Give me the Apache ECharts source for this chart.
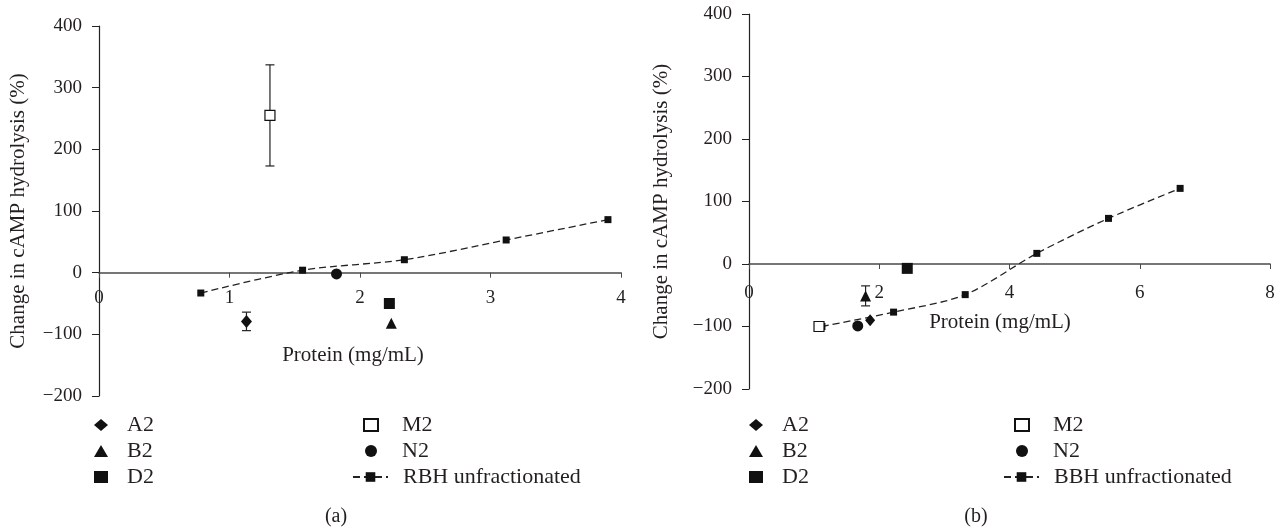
<!DOCTYPE html>
<html>
<head>
<meta charset="utf-8">
<script src="https://cdn.jsdelivr.net/npm/echarts@6/dist/echarts.min.js"></script>
<style>
  html, body { margin: 0; padding: 0; background: #fff; }
  #chart { width: 1283px; height: 529px; }
</style>
</head>
<body>
<div id="chart"></div>
<script>
// panel (a) - RBH fractions, [protein mg/mL, change %]
const rbhLine = [[0.78, -33], [1.56, 4], [2.34, 21], [3.12, 53], [3.9, 86]]
const aA2 = [[1.13, -79]]
const aB2 = [[2.24, -82]]
const aD2 = [[2.225, -50]]
const aM2 = [[1.31, 255]]
const aN2 = [[1.82, -2]]
const aA2Err = [15]
const aM2Err = [82]

// panel (b) - BBH fractions
const bbhLine = [[1.12, -100], [2.22, -77], [3.32, -49], [4.42, 17], [5.52, 73], [6.62, 121]]
const bA2 = [[1.86, -90]]
const bB2 = [[1.79, -51]]
const bD2 = [[2.43, -7]]
const bM2 = [[1.075, -100]]
const bN2 = [[1.67, -99]]
const bB2Err = [16]

const yTicks = { min: -200, max: 400, interval: 100 }
const xTicksA = { min: 0, max: 4, interval: 1 }
const xTicksB = { min: 0, max: 8, interval: 2 }

const font = 'Liberation Serif'
const ink = '#231f20'

// plot boxes of the two panels
const boxA = { left: 99, right: 662, top: 26, bottom: 133 }
const boxB = { left: 749, right: 13, top: 14, bottom: 140 }

const minus = (v) => (v < 0 ? '\u2212' + Math.abs(v) : String(v))

// lift the x axis from the grid bottom up to y = 0
const zeroOffset = (box) => {
  const h = 529 - box.top - box.bottom
  const frac = (0 - yTicks.min) / (yTicks.max - yTicks.min)
  return -h * frac
}

const xAxisBase = (idx, box, ticks, labelMargin, nameGap, shift) => ({
  type: 'value',
  gridIndex: idx,
  ...ticks,
  offset: zeroOffset(box),
  name: 'Protein (mg/mL)',
  nameLocation: 'middle',
  nameGap: nameGap,
  nameTextStyle: { fontFamily: font, fontSize: 21, color: ink, padding: [0, shift, 0, 0] },
  axisLine: { onZero: false, lineStyle: { color: '#4a4a4a', width: 1.6 } },
  axisTick: { length: 5, lineStyle: { color: '#4a4a4a' } },
  axisLabel: { margin: labelMargin, fontFamily: font, fontSize: 19, color: ink },
  splitLine: { show: false },
})

const yAxisBase = (idx, nameGap) => ({
  type: 'value',
  gridIndex: idx,
  ...yTicks,
  name: 'Change in cAMP hydrolysis (%)',
  nameLocation: 'middle',
  nameGap: nameGap,
  nameTextStyle: { fontFamily: font, fontSize: 21, color: ink },
  axisLine: { show: true, onZero: false, lineStyle: { color: '#222', width: 1.2 } },
  axisTick: { show: true, length: 7, lineStyle: { color: '#222' } },
  axisLabel: { margin: 17, fontFamily: font, fontSize: 19, color: ink, formatter: minus },
  splitLine: { show: false },
})

const dot = (name, data, symbol, size, idx, open) => ({
  type: 'scatter',
  name,
  data,
  symbol,
  symbolSize: size,
  xAxisIndex: idx,
  yAxisIndex: idx,
  z: 5,
  itemStyle: open
    ? { color: '#fff', borderColor: '#111', borderWidth: 1.2, opacity: 1 }
    : { color: '#111', opacity: 1 },
})

const curve = (name, data, idx) => ({
  type: 'line',
  name,
  data,
  xAxisIndex: idx,
  yAxisIndex: idx,
  smooth: 0.3,
  symbol: 'rect',
  symbolSize: 7,
  z: 4,
  itemStyle: { color: '#111' },
  lineStyle: { color: '#222', width: 1.3, type: [7, 4] },
})

const errorBars = (points, errs, idx) => ({
  type: 'custom',
  name: 'err',
  xAxisIndex: idx,
  yAxisIndex: idx,
  z: 2,
  silent: true,
  data: points.map((p, i) => [p[0], p[1] - errs[i], p[1] + errs[i]]),
  renderItem(params, api) {
    const x = api.value(0)
    const lo = api.coord([x, api.value(1)])
    const hi = api.coord([x, api.value(2)])
    const w = 4.5
    const st = { stroke: '#222', lineWidth: 1.2 }
    return {
      type: 'group',
      children: [
        { type: 'line', shape: { x1: lo[0], y1: lo[1], x2: hi[0], y2: hi[1] }, style: st },
        { type: 'line', shape: { x1: lo[0] - w, y1: lo[1], x2: lo[0] + w, y2: lo[1] }, style: st },
        { type: 'line', shape: { x1: hi[0] - w, y1: hi[1], x2: hi[0] + w, y2: hi[1] }, style: st },
      ],
    }
  },
})

const legendCol = (names, left, top, itemWidth, pad) => ({
  data: names,
  orient: 'vertical',
  left: left,
  top: top,
  padding: 0,
  itemWidth: itemWidth,
  itemHeight: 12,
  itemGap: 4,
  selectedMode: false,
  textStyle: { fontFamily: font, fontSize: 22, color: ink, lineHeight: 22, padding: [0, 0, 0, pad] },
})

const chart = echarts.init(document.getElementById('chart'))
chart.setOption({
  animation: false,
  grid: [boxA, boxB],
  xAxis: [xAxisBase(0, boxA, xTicksA, 16, 72, 14), xAxisBase(1, boxB, xTicksB, 20, 48, 19)],
  yAxis: [yAxisBase(0, 70), yAxisBase(1, 77)],
  legend: [
    legendCol(['A2', 'B2', 'D2'], 94, 414, 14, 14),
    legendCol(['M2', 'N2'], 363, 414, 14, 19),
    legendCol(['RBH unfractionated'], 352, 466, 35, 10),
    legendCol(['A2', 'B2', 'D2'], 749, 414, 14, 14),
    legendCol(['M2', 'N2'], 1014, 414, 14, 19),
    legendCol(['BBH unfractionated'], 1003, 466, 35, 10),
  ],
  graphic: [
    { type: 'text', x: 336, y: 517, style: { text: '(a)', font: '20px ' + font, fill: ink, textAlign: 'center', textVerticalAlign: 'middle' } },
    { type: 'text', x: 976, y: 517, style: { text: '(b)', font: '20px ' + font, fill: ink, textAlign: 'center', textVerticalAlign: 'middle' } },
  ],
  series: [
    errorBars(aA2, aA2Err, 0),
    errorBars(aM2, aM2Err, 0),
    curve('RBH unfractionated', rbhLine, 0),
    dot('A2', aA2, 'diamond', [11, 13], 0),
    dot('B2', aB2, 'triangle', 11, 0),
    dot('D2', aD2, 'rect', 11, 0),
    dot('M2', aM2, 'rect', 10, 0, true),
    dot('N2', aN2, 'circle', 11, 0),

    errorBars(bB2, bB2Err, 1),
    curve('BBH unfractionated', bbhLine, 1),
    dot('A2', bA2, 'diamond', [10, 12], 1),
    dot('B2', bB2, 'triangle', 11, 1),
    dot('D2', bD2, 'rect', 11, 1),
    dot('M2', bM2, 'rect', 10, 1, true),
    dot('N2', bN2, 'circle', 11, 1),
  ],
})
</script>
</body>
</html>
